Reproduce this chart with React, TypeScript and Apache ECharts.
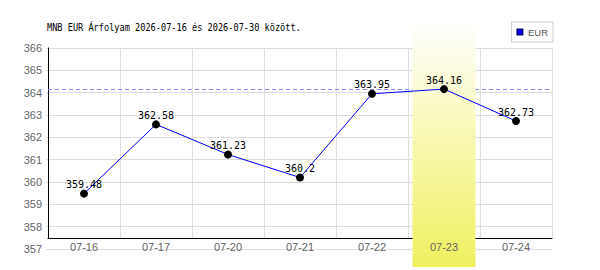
import React, { useEffect, useRef } from 'react';
import * as echarts from 'echarts';

const categories = ['07-16', '07-17', '07-20', '07-21', '07-22', '07-23', '07-24'];
const rates = [359.48, 362.58, 361.23, 360.2, 363.95, 364.16, 362.73];
const highlightCategory = '07-23';
const yMin = 357;
const yMax = 366;
const yStep = 1;
const titleText = 'MNB EUR Árfolyam 2026-07-16 és 2026-07-30 között.';
const seriesName = 'EUR';

export default function App() {
  const ref = useRef<HTMLDivElement>(null);
  useEffect(() => {
    document.body.style.margin = '0';
    const chart = echarts.init(ref.current!, null, { renderer: 'svg' });
    const gridPos = { left: 48, right: 48, top: 48 };
    const labelFont = { color: '#666', fontFamily: 'Liberation Sans', fontSize: 11 };
    chart.setOption({
      animation: false,
      backgroundColor: '#ffffff',
      legend: {
        data: [
          {
            name: seriesName,
            icon: 'rect',
            itemStyle: { color: '#0000ff', borderColor: '#000044', borderWidth: 1 },
          },
        ],
        right: 47,
        top: 22,
        itemWidth: 6,
        itemHeight: 6,
        padding: [5, 5, 5, 5],
        borderColor: '#cccccc',
        borderWidth: 1,
        selectedMode: false,
        textStyle: { fontFamily: 'Liberation Sans', fontSize: 9.5, color: '#555', lineHeight: 10 },
      },
      grid: [
        { ...gridPos, bottom: 21 },
        { ...gridPos, bottom: 32 },
      ],
      xAxis: [
        {
          gridIndex: 0,
          type: 'category',
          data: categories,
          boundaryGap: true,
          axisLine: { show: false },
          axisTick: { show: false },
          splitLine: { show: false },
          axisLabel: { ...labelFont, margin: -8 },
          z: 30,
        },
        {
          gridIndex: 1,
          type: 'category',
          data: categories,
          boundaryGap: true,
          axisLine: { show: true, lineStyle: { color: '#000', width: 1 } },
          axisTick: { show: false },
          axisLabel: { show: false },
          splitLine: { show: true, interval: 0, lineStyle: { color: '#dddddd', width: 1 } },
        },
      ],
      yAxis: [
        {
          gridIndex: 0,
          type: 'value',
          min: yMin,
          max: yMax,
          interval: yStep,
          axisLine: { show: false },
          axisTick: { show: true, length: 2, lineStyle: { color: '#dddddd' } },
          splitLine: { show: true, lineStyle: { color: '#dddddd', width: 1 } },
          axisLabel: { ...labelFont, margin: 6 },
        },
        {
          gridIndex: 1,
          type: 'value',
          min: 0,
          max: 1,
          axisLine: { show: true, lineStyle: { color: '#000', width: 1 } },
          axisTick: { show: false },
          axisLabel: { show: false },
          splitLine: { show: false },
        },
      ],
      series: [
        {
          name: seriesName,
          type: 'line',
          xAxisIndex: 0,
          yAxisIndex: 0,
          data: rates,
          z: 20,
          symbol: 'circle',
          symbolSize: 8,
          itemStyle: { color: '#000' },
          lineStyle: { color: '#0000ff', width: 1 },
          label: {
            show: true,
            position: 'top',
            distance: 0,
            fontFamily: 'DejaVu Sans Mono',
            fontSize: 10,
            color: '#000',
          },
        },
      ],
    });
    const cx = chart.convertToPixel({ xAxisIndex: 0 }, highlightCategory) as number;
    const c0 = chart.convertToPixel({ xAxisIndex: 0 }, categories[0]) as number;
    const c1 = chart.convertToPixel({ xAxisIndex: 0 }, categories[1]) as number;
    const cN = chart.convertToPixel({ xAxisIndex: 0 }, categories[categories.length - 1]) as number;
    const step = c1 - c0;
    const maxY = Math.round(chart.convertToPixel({ yAxisIndex: 0 }, Math.max(...rates)) as number) + 0.5;
    chart.setOption({
      graphic: [
        {
          type: 'line',
          z: 5,
          silent: true,
          shape: { x1: c0 - step / 2, y1: maxY, x2: cN + step / 2, y2: maxY },
          style: { stroke: '#8888ff', lineWidth: 1, lineDash: [4, 3] },
        },
        {
          type: 'rect',
          z: 10,
          silent: true,
          shape: { x: cx - 31.5, y: 20, width: 63, height: 247 },
          style: {
            fill: new echarts.graphic.LinearGradient(0, 0, 0, 1, [
              { offset: 0, color: '#ffffff' },
              { offset: 1, color: '#f0f060' },
            ]),
          },
        },
        {
          type: 'text',
          z: 40,
          x: 47,
          y: 27,
          scaleX: 0.82,
          silent: true,
          style: {
            text: titleText,
            fontFamily: 'DejaVu Sans Mono',
            fontSize: 10.5,
            fill: '#000',
            verticalAlign: 'middle',
            align: 'left',
          },
        },
      ],
    });
    return () => chart.dispose();
  }, []);
  return <div ref={ref} style={{ width: 600, height: 270 }} />;
}
